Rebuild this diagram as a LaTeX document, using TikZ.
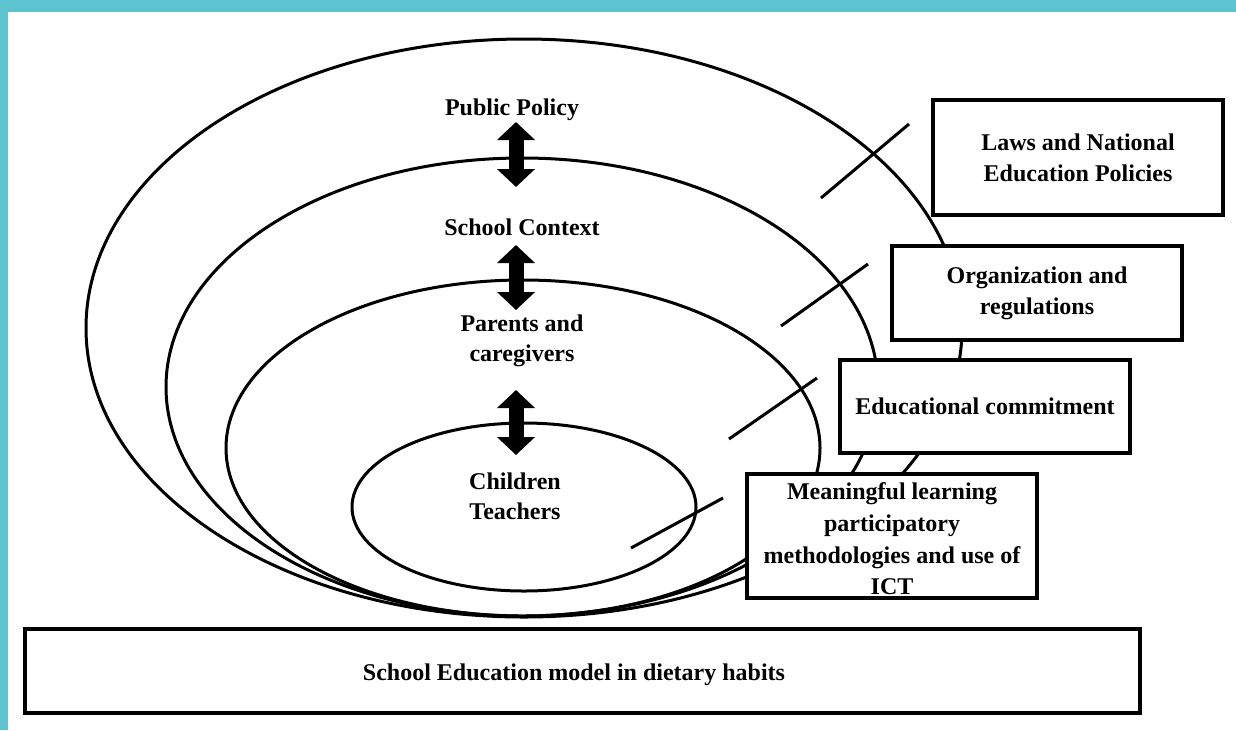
\documentclass[tikz,border=0pt]{standalone}
\usepackage{fontspec}
\setmainfont{Liberation Serif}
\usetikzlibrary{arrows.meta}
\definecolor{framecol}{RGB}{94,195,208}
\begin{document}
\begin{tikzpicture}[x=0.5pt,y=-0.5pt,
  ring/.style={line width=1.5pt},
  tickline/.style={line width=1.5pt},
  box/.style={draw,line width=1.8pt,fill=white,align=center,inner sep=0pt,
    font=\fontsize{12}{15.5}\selectfont\bfseries},
  lbl/.style={align=center,inner sep=0pt,font=\fontsize{12}{15}\selectfont\bfseries},
  dblarrow/.style={line width=7.5pt,
    {Triangle[width=18.5pt,length=9pt]}-{Triangle[width=18.5pt,length=9pt]}}]
% background and frame
\fill[white] (0,0) rectangle (1236,730);
\useasboundingbox (0,0) rectangle (1236,730);
\fill[framecol] (0,0) rectangle (1236,12);
\fill[framecol] (0,0) rectangle (8,730);
% nested ellipses
\draw[ring] (524,328) ellipse [x radius=219pt, y radius=144.5pt];
\draw[ring] (522,387) ellipse [x radius=178pt, y radius=114.5pt];
\draw[ring] (523,448) ellipse [x radius=148.5pt, y radius=84pt];
\draw[ring] (524,507) ellipse [x radius=86pt, y radius=42pt];
% tick lines
\coordinate (t1a) at (821,198); \coordinate (t1b) at (909,124);
\coordinate (t2a) at (781,326); \coordinate (t2b) at (868,264);
\coordinate (t3a) at (729,439); \coordinate (t3b) at (817,378);
\coordinate (t4a) at (631,548); \coordinate (t4b) at (723,498);
\draw[tickline] (t1a) -- (t1b);
\draw[tickline] (t2a) -- (t2b);
\draw[tickline] (t3a) -- (t3b);
\draw[tickline] (t4a) -- (t4b);
% boxes
\node[box, minimum width=145pt, minimum height=57.5pt] (laws) at (1078,157.5)
  {Laws and National\\Education Policies};
\node[box, minimum width=145pt, minimum height=47pt] (org) at (1037,293)
  {Organization and\\regulations};
\node[box, minimum width=145pt, minimum height=46.5pt] (edu) at (985,406.5)
  {Educational commitment};
\node[box, minimum width=145pt, minimum height=62pt] (mean) at (892,536) {};
\node[lbl, font=\fontsize{12}{15.8}\selectfont\bfseries] (meantxt) at (892,539)
  {Meaningful learning\\participatory\\methodologies and use of\\ICT};
\node[box, minimum width=557.5pt, minimum height=42pt] (base) at (582.5,671) {};
\node[lbl] (basetxt) at (574,675) {School Education model in dietary habits};
% labels
\node[lbl] (pp) at (512,110) {Public Policy};
\node[lbl] (sc) at (522,227) {School Context};
\node[lbl] (pc) at (522,341) {Parents and\\caregivers};
\node[lbl] (ct) at (515,496) {Children\\Teachers};
% double arrows
\coordinate (a1a) at (516,122); \coordinate (a1b) at (516,187);
\coordinate (a2a) at (516,245); \coordinate (a2b) at (516,310);
\coordinate (a3a) at (516,390); \coordinate (a3b) at (516,455);
\draw[dblarrow] (a1a) -- (a1b);
\draw[dblarrow] (a2a) -- (a2b);
\draw[dblarrow] (a3a) -- (a3b);
\end{tikzpicture}
\end{document}
